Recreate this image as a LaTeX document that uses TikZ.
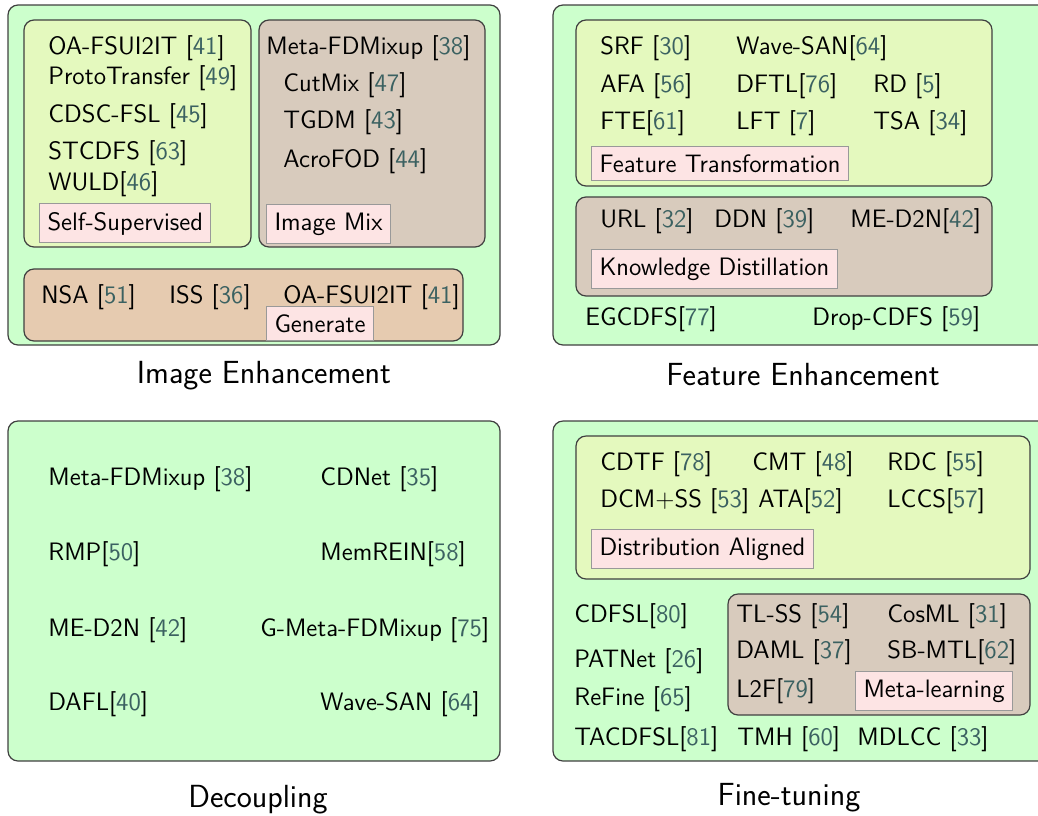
\documentclass[tikz,border=0pt]{standalone}
\usepackage{fontspec}
\renewcommand{\familydefault}{\sfdefault}
\definecolor{outerg}{HTML}{CCFFCC}
\definecolor{ygc}{HTML}{E4F9BE}
\definecolor{mixc}{HTML}{D8CBBD}
\definecolor{genc}{HTML}{E6CBB0}
\definecolor{pinkc}{HTML}{FDE4E4}
\definecolor{citec}{HTML}{3B6161}
\newcommand{\rc}[1]{[\textcolor{citec}{#1}]}
\tikzset{
  grp/.style={draw=black!75, line width=0.6pt, rounded corners=5pt},
  item/.style={anchor=base west, inner sep=0pt, font=\fontsize{12.6}{15}\selectfont},
  lab/.style={anchor=base west, draw=black!40, fill=pinkc, line width=0.5pt, inner sep=4pt, font=\fontsize{12.6}{15}\selectfont},
  ttl/.style={anchor=base, inner sep=0pt, font=\fontsize{16}{19}\selectfont}
}
\begin{document}
\begin{tikzpicture}[x=0.5pt,y=-0.5pt]
\clip (0,0) rectangle (1038,815);
% outer boxes
\draw[grp, fill=outerg] (8,5) rectangle (500,345);
\draw[grp, fill=outerg] (553,5) rectangle (1070,345);
\draw[grp, fill=outerg] (8,421) rectangle (500,761);
\draw[grp, fill=outerg] (553,421) rectangle (1070,761);
% inner boxes
\draw[grp, fill=ygc] (24,20) rectangle (251,247);
\draw[grp, fill=mixc] (259,20) rectangle (485,247);
\draw[grp, fill=genc] (24,269) rectangle (463,341);
\draw[grp, fill=ygc] (576,20) rectangle (992,186);
\draw[grp, fill=mixc] (576,197) rectangle (992,296);
\draw[grp, fill=ygc] (576,436) rectangle (1030,579);
\draw[grp, fill=mixc] (728,594) rectangle (1030,715);

% Image Enhancement
\node[item] (ie1) at (48,54) {OA-FSUI2IT \rc{41}};
\node[item] (ie2) at (48,84) {ProtoTransfer \rc{49}};
\node[item] (ie3) at (48,122) {CDSC-FSL \rc{45}};
\node[item] (ie4) at (48,159) {STCDFS \rc{63}};
\node[item] (ie5) at (48,190) {WULD\rc{46}};
\node[lab] (ssl) at (39,230) {Self-Supervised};
\node[item] (im1) at (266,54) {Meta-FDMixup \rc{38}};
\node[item] (im2) at (283,91) {CutMix \rc{47}};
\node[item] (im3) at (283,128) {TGDM \rc{43}};
\node[item] (im4) at (283,167) {AcroFOD \rc{44}};
\node[lab] (iml) at (266,230) {Image Mix};
\node[item] (g1) at (41,303) {NSA \rc{51}};
\node[item] (g2) at (169,303) {ISS \rc{36}};
\node[item] (g3) at (283,303) {OA-FSUI2IT \rc{41}};
\node[lab] (gl) at (266,332) {Generate};
\node[ttl] (t1) at (264,383) {Image Enhancement};

% Feature Enhancement
\node[item] (f1) at (600,54) {SRF \rc{30}};
\node[item] (f2) at (736,54) {Wave-SAN\rc{64}};
\node[item] (f3) at (600,92) {AFA \rc{56}};
\node[item] (f4) at (736,92) {DFTL\rc{76}};
\node[item] (f5) at (873,92) {RD \rc{5}};
\node[item] (f6) at (600,129) {FTE\rc{61}};
\node[item] (f7) at (736,129) {LFT \rc{7}};
\node[item] (f8) at (873,129) {TSA \rc{34}};
\node[lab] (ftl) at (591,172) {Feature Transformation};
\node[item] (k1) at (600,227) {URL \rc{32}};
\node[item] (k2) at (714,227) {DDN \rc{39}};
\node[item] (k3) at (850,227) {ME-D2N\rc{42}};
\node[lab] (kdl) at (591,275) {Knowledge Distillation};
\node[item] (e1) at (585,325) {EGCDFS\rc{77}};
\node[item] (e2) at (812,325) {Drop-CDFS \rc{59}};
\node[ttl] (t2) at (803,385) {Feature Enhancement};

% Decoupling
\node[item] (d1) at (48,485) {Meta-FDMixup \rc{38}};
\node[item] (d2) at (320,485) {CDNet \rc{35}};
\node[item] (d3) at (48,560) {RMP\rc{50}};
\node[item] (d4) at (320,560) {MemREIN\rc{58}};
\node[item] (d5) at (48,636) {ME-D2N \rc{42}};
\node[item] (d6) at (260,636) {G-Meta-FDMixup \rc{75}};
\node[item] (d7) at (48,710) {DAFL\rc{40}};
\node[item] (d8) at (320,710) {Wave-SAN \rc{64}};
\node[ttl] (t3) at (258,807) {Decoupling};

% Fine-tuning
\node[item] (a1) at (600,470) {CDTF \rc{78}};
\node[item] (a2) at (752,470) {CMT \rc{48}};
\node[item] (a3) at (887,470) {RDC \rc{55}};
\node[item] (a4) at (600,507) {DCM+SS \rc{53}};
\node[item] (a5) at (758,507) {ATA\rc{52}};
\node[item] (a6) at (887,507) {LCCS\rc{57}};
\node[lab] (dal) at (591,555) {Distribution Aligned};
\node[item] (m1) at (736,622) {TL-SS \rc{54}};
\node[item] (m2) at (887,622) {CosML \rc{31}};
\node[item] (m3) at (736,658) {DAML \rc{37}};
\node[item] (m4) at (887,658) {SB-MTL\rc{62}};
\node[item] (m5) at (736,697) {L2F\rc{79}};
\node[lab] (mll) at (855,697) {Meta-learning};
\node[item] (o1) at (574,622) {CDFSL\rc{80}};
\node[item] (o2) at (574,667) {PATNet \rc{26}};
\node[item] (o3) at (574,705) {ReFine \rc{65}};
\node[item] (o4) at (574,745) {TACDFSL\rc{81}};
\node[item] (o5) at (737,745) {TMH \rc{60}};
\node[item] (o6) at (857,745) {MDLCC \rc{33}};
\node[ttl] (t4) at (789,805) {Fine-tuning};
\end{tikzpicture}
\end{document}
